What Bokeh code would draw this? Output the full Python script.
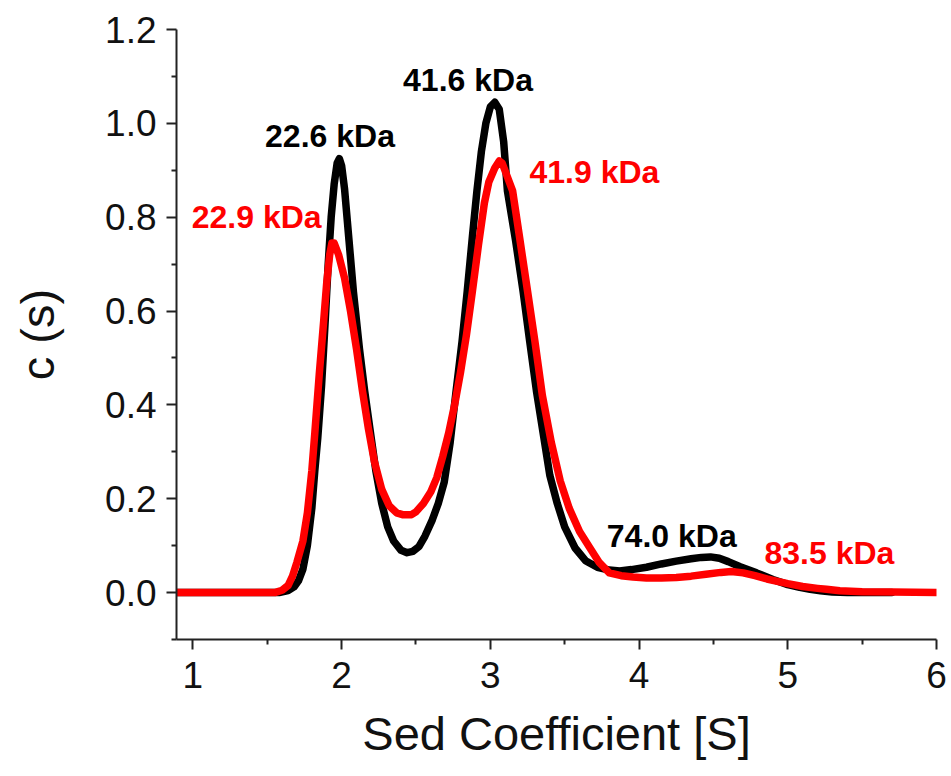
from bokeh.plotting import figure
from bokeh.models import Range1d, FixedTicker, PrintfTickFormatter, ColumnDataSource
from bokeh.core.properties import value
from bokeh.embed import file_html
from bokeh.resources import INLINE

# ---- data ----
black_x = [0.89, 1.30, 1.58, 1.64, 1.68, 1.71, 1.74, 1.77, 1.80, 1.82, 1.84, 1.865, 1.89, 1.91, 1.93,
           1.95, 1.97, 1.985, 2.00, 2.02, 2.05, 2.08, 2.12, 2.155, 2.19, 2.23, 2.27, 2.31, 2.35, 2.40,
           2.44, 2.48, 2.52, 2.56, 2.61, 2.65, 2.69, 2.73, 2.77, 2.81, 2.845, 2.88, 2.91, 2.94, 2.97,
           3.00, 3.03, 3.06, 3.09, 3.115, 3.17, 3.22, 3.265, 3.31, 3.36, 3.40, 3.45, 3.50, 3.57, 3.64,
           3.72, 3.80, 3.87, 3.95, 4.05, 4.15, 4.25, 4.35, 4.42, 4.48, 4.54, 4.60, 4.68, 4.79, 4.90,
           5.00, 5.08, 5.15, 5.22, 5.30, 5.40, 5.70]
black_y = [0.0, 0.0, 0.0, 0.004, 0.012, 0.025, 0.05, 0.10, 0.18, 0.26, 0.33, 0.44, 0.58, 0.70, 0.80,
           0.87, 0.915, 0.925, 0.91, 0.86, 0.75, 0.64, 0.52, 0.43, 0.35, 0.26, 0.19, 0.14, 0.11, 0.09,
           0.085, 0.088, 0.098, 0.12, 0.155, 0.19, 0.235, 0.32, 0.43, 0.535, 0.643, 0.76, 0.856, 0.94, 1.00,
           1.035, 1.045, 1.03, 0.96, 0.856, 0.75, 0.643, 0.535, 0.43, 0.33, 0.25, 0.19, 0.14, 0.095, 0.068,
           0.054, 0.048, 0.046, 0.049, 0.054, 0.061, 0.067, 0.072, 0.075, 0.076, 0.073, 0.066, 0.055, 0.042, 0.028,
           0.017, 0.011, 0.007, 0.004, 0.001, 0.0, 0.0]

red_x = [0.89, 1.30, 1.55, 1.60, 1.64, 1.67, 1.70, 1.74, 1.77, 1.80, 1.82, 1.85, 1.88, 1.90, 1.92,
         1.935, 1.95, 1.98, 2.02, 2.06, 2.10, 2.14, 2.18, 2.22, 2.27, 2.32, 2.37, 2.41, 2.47, 2.50,
         2.55, 2.60, 2.64, 2.68, 2.72, 2.76, 2.80, 2.84, 2.88, 2.92, 2.96, 2.99, 3.03, 3.06, 3.08,
         3.11, 3.15, 3.20, 3.25, 3.30, 3.35, 3.41, 3.47, 3.53, 3.60, 3.67, 3.73, 3.80, 3.88, 3.96,
         4.05, 4.15, 4.25, 4.35, 4.45, 4.55, 4.62, 4.70, 4.78, 4.86, 4.93, 5.00, 5.10, 5.20, 5.26,
         5.35, 5.50, 5.70, 6.00]
red_y = [0.0, 0.0, 0.0, 0.005, 0.015, 0.035, 0.065, 0.11, 0.17, 0.26, 0.34, 0.466, 0.58, 0.66, 0.72,
         0.745, 0.745, 0.72, 0.67, 0.60, 0.52, 0.43, 0.35, 0.28, 0.22, 0.185, 0.17, 0.166, 0.166, 0.172,
         0.19, 0.215, 0.245, 0.29, 0.34, 0.40, 0.47, 0.55, 0.643, 0.74, 0.83, 0.875, 0.905, 0.92, 0.915,
         0.89, 0.856, 0.75, 0.643, 0.535, 0.42, 0.32, 0.238, 0.18, 0.13, 0.095, 0.065, 0.042, 0.036, 0.033,
         0.031, 0.031, 0.032, 0.035, 0.039, 0.043, 0.045, 0.042, 0.036, 0.029, 0.024, 0.019, 0.013, 0.009, 0.007,
         0.004, 0.002, 0.001, 0.0]

black_labels = ["22.6 kDa", "41.6 kDa", "74.0 kDa"]
black_label_x = [1.922, 2.85, 4.22]
black_label_y = [0.972, 1.092, 0.121]
red_labels = ["22.9 kDa", "41.9 kDa", "83.5 kDa"]
red_label_x = [1.429, 3.70, 5.28]
red_label_y = [0.801, 0.897, 0.085]

x_ticks = [1, 2, 3, 4, 5, 6]
x_minor = [1.5, 2.5, 3.5, 4.5, 5.5]
y_ticks = [0.0, 0.2, 0.4, 0.6, 0.8, 1.0, 1.2]
y_minor = [-0.1, 0.1, 0.3, 0.5, 0.7, 0.9, 1.1]

# ---- figure ----
p = figure(width=951, height=776, output_backend="svg", toolbar_location=None,
           x_range=Range1d(0.89, 6.0), y_range=Range1d(-0.1, 1.2),
           min_border_left=176, min_border_right=15, min_border_top=29, min_border_bottom=137,
           x_axis_label="Sed Coefficient [S]", y_axis_label="c (s)")
p.grid.visible = False
p.outline_line_color = None
p.background_fill_color = "white"
p.border_fill_color = "white"

font = "Liberation Sans"
for ax in (p.xaxis[0], p.yaxis[0]):
    ax.axis_line_width = 2
    ax.axis_line_color = "#222222"
    ax.major_tick_line_width = 2
    ax.minor_tick_line_width = 2
    ax.major_tick_line_color = "#222222"
    ax.minor_tick_line_color = "#222222"
    ax.major_tick_out = 10
    ax.major_tick_in = 0
    ax.minor_tick_out = 5
    ax.minor_tick_in = 0
    ax.major_label_text_font = font
    ax.major_label_text_font_size = "37px"
    ax.major_label_text_color = "#111111"
    ax.axis_label_text_font = font
    ax.axis_label_text_font_size = "47px"
    ax.axis_label_text_font_style = "normal"
    ax.axis_label_text_color = "#111111"

p.xaxis.ticker = FixedTicker(ticks=x_ticks, minor_ticks=x_minor)
p.yaxis.ticker = FixedTicker(ticks=y_ticks, minor_ticks=y_minor)
p.yaxis.formatter = PrintfTickFormatter(format="%.1f")
p.xaxis.major_label_standoff = 12
p.yaxis.major_label_standoff = 10
p.xaxis.axis_label_standoff = 16
p.yaxis.axis_label_standoff = 38

black_src = ColumnDataSource(dict(x=black_x, y=black_y))
red_src = ColumnDataSource(dict(x=red_x, y=red_y))
p.line("x", "y", source=black_src, line_color="black", line_width=7.5, line_join="round", line_cap="round")
p.line("x", "y", source=red_src, line_color="#ff0000", line_width=7.5, line_join="round", line_cap="round")

p.text(x=black_label_x, y=black_label_y, text=black_labels, text_color="black",
       text_font=value(font), text_font_size="32px", text_font_style="bold",
       text_align="center", text_baseline="middle")
p.text(x=red_label_x, y=red_label_y, text=red_labels, text_color="#ff0000",
       text_font=value(font), text_font_size="32px", text_font_style="bold",
       text_align="center", text_baseline="middle")

open("out.html", "w").write(file_html(p, INLINE))
